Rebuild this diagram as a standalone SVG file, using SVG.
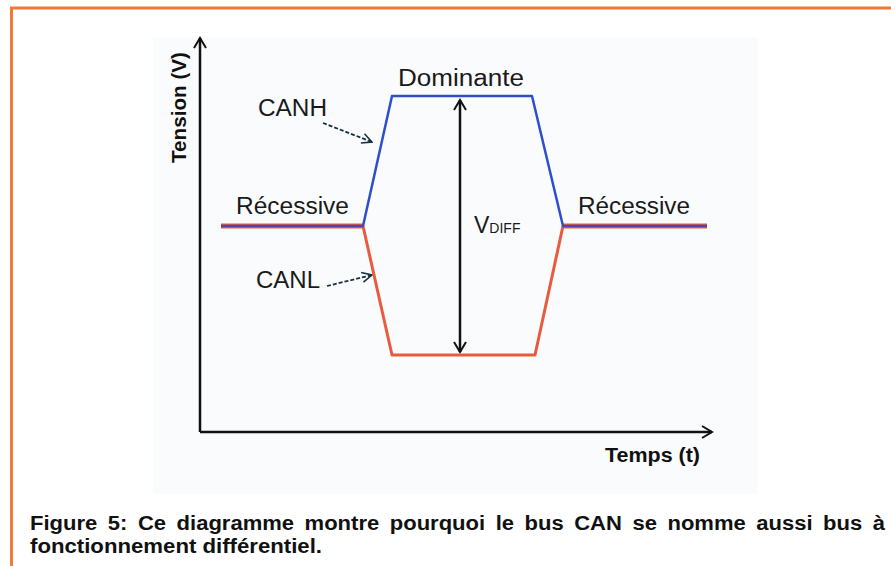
<svg xmlns="http://www.w3.org/2000/svg" width="891" height="566" viewBox="0 0 891 566">
<defs>
<style>
.lbl{font-family:"Liberation Sans",Arial,sans-serif;font-size:23px;fill:#1a1a1a}
.ax{font-family:"Liberation Sans",Arial,sans-serif;font-size:20px;font-weight:bold;fill:#111}
.cap{font-family:"Liberation Sans",Arial,sans-serif;font-size:20px;font-weight:bold;fill:#111}
.axis{stroke:#111;stroke-width:2.5;fill:none}
.ptr{stroke:#1a3040;stroke-width:1.8;fill:none;stroke-dasharray:4 2}
.red{stroke:#ea5a3e;stroke-width:3;fill:none;stroke-linejoin:round}
.blue{stroke:#2d4fc9;stroke-width:2.5;fill:none;stroke-linejoin:round}
</style>
<marker id="chev" viewBox="0 0 14 14" refX="12" refY="7" markerWidth="14" markerHeight="14" markerUnits="userSpaceOnUse" orient="auto">
<path d="M2,1 L12,7 L2,13" fill="none" stroke="#111" stroke-width="2"/>
</marker>
<marker id="chevs" viewBox="0 0 12 12" refX="11" refY="6" markerWidth="12" markerHeight="12" markerUnits="userSpaceOnUse" orient="auto">
<path d="M1,1 L11,6 L1,11" fill="none" stroke="#1a3040" stroke-width="1.6"/>
</marker>
<marker id="chevv" viewBox="0 0 14 14" refX="12" refY="7" markerWidth="14" markerHeight="14" markerUnits="userSpaceOnUse" orient="auto-start-reverse">
<path d="M2,1 L12,7 L2,13" fill="none" stroke="#111" stroke-width="2"/>
</marker>
</defs>
<rect width="891" height="566" fill="#ffffff"/>
<g id="frame">
<path d="M11.5,566 L11.5,8 L891,8" fill="none" stroke="#f07a3a" stroke-width="3"/>
</g>
<rect id="plot-bg" x="153" y="37" width="605" height="457" fill="#fafbfd"/>
<g id="connectors">
<path class="axis" d="M200,432 L200,38" marker-end="url(#chev)"/>
<path class="axis" d="M200,432 L712,432" marker-end="url(#chev)"/>
<path class="axis" d="M460,100 L460,352" stroke-width="2" marker-start="url(#chevv)" marker-end="url(#chevv)"/>
<path class="ptr" d="M323,123 L372,142" marker-end="url(#chevs)"/>
<path class="ptr" d="M327,286 L372,275" marker-end="url(#chevs)"/>
</g>
<g id="canl">
<path class="red" d="M221,226 L363,226 L392,355 L535,355 L563,226 L707,226"/>
<path d="M221,226 L363,226 M563,226 L707,226" stroke="#ea5a3e" stroke-width="5" fill="none"/>
</g>
<g id="canh">
<path class="blue" d="M221,226 L363,226 L392,96 L532,96 L563,226 L707,226"/>
<path d="M221,226 L363,226 M563,226 L707,226" stroke="#6a3aa8" stroke-width="1.5" fill="none" opacity="0.7"/>
</g>
<g id="labels">
<text class="ax" transform="translate(186,163) rotate(-90)" textLength="111" lengthAdjust="spacingAndGlyphs">Tension (V)</text>
<text class="ax" x="605" y="462" textLength="95" lengthAdjust="spacingAndGlyphs">Temps (t)</text>
<text class="lbl" x="398" y="86" textLength="126" lengthAdjust="spacingAndGlyphs">Dominante</text>
<text class="lbl" x="258" y="116" textLength="69" lengthAdjust="spacingAndGlyphs">CANH</text>
<text class="lbl" x="236" y="214" textLength="113" lengthAdjust="spacingAndGlyphs">Récessive</text>
<text class="lbl" x="578" y="214" textLength="112" lengthAdjust="spacingAndGlyphs">Récessive</text>
<text class="lbl" x="256" y="288" textLength="64" lengthAdjust="spacingAndGlyphs">CANL</text>
<text class="lbl" x="474" y="233">V<tspan font-size="14">DIFF</tspan></text>
</g>
<g id="caption">
<text class="cap" x="30" y="530" textLength="855" lengthAdjust="spacingAndGlyphs" word-spacing="4">Figure 5: Ce diagramme montre pourquoi le bus CAN se nomme aussi bus à</text>
<text class="cap" x="30" y="553" textLength="292" lengthAdjust="spacingAndGlyphs">fonctionnement différentiel.</text>
</g>
</svg>
